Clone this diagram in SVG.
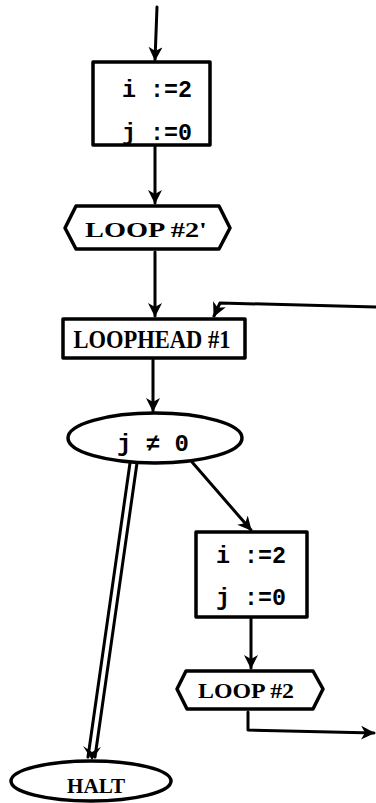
<svg xmlns="http://www.w3.org/2000/svg" width="376" height="803" viewBox="0 0 376 803">
<defs>
<style>
.n{fill:#fff;stroke:#000;stroke-width:3.5;stroke-linejoin:round}
.c{fill:none;stroke:#000;stroke-width:3;stroke-linecap:round;stroke-linejoin:round}
.m{font-family:"Liberation Mono","DejaVu Sans Mono",monospace;font-size:24px;font-weight:bold;fill:#000;text-anchor:middle}
.s{font-family:"Liberation Serif","DejaVu Serif",serif;font-weight:bold;fill:#000;text-anchor:middle}
</style>
<marker id="ah" viewBox="0 0 14 14" refX="13" refY="7" markerWidth="14" markerHeight="14" markerUnits="userSpaceOnUse" orient="auto">
<path d="M0,0 L14,7 L0,14 L4,7 Z" fill="#000"/>
</marker>
</defs>
<g id="connectors">
<path class="c" d="M157,7 L155,60" marker-end="url(#ah)"/>
<path class="c" d="M155,147 L155,203" marker-end="url(#ah)"/>
<path class="c" d="M155,252 L155,316" marker-end="url(#ah)"/>
<path class="c" d="M376,307 L220,303 L214,316" marker-end="url(#ah)"/>
<path class="c" d="M153,360 L153,411" marker-end="url(#ah)"/>
<path class="c" d="M192,462 L251,530" marker-end="url(#ah)"/>
<path class="c" d="M251,619 L251,668" marker-end="url(#ah)"/>
<path class="c" d="M248,712 L248,730 L374,733" marker-end="url(#ah)"/>
<path class="c" d="M130,463 L88,757" stroke-width="2.5"/>
<path class="c" d="M137,463 L95,757" stroke-width="2.5"/>
<path d="M83,746 L92,760 L101,747 L92,752 Z" fill="#000"/>
</g>
<g id="n1">
<rect class="n" x="93" y="62" width="117" height="83"/>
<text class="m" x="157" y="97" textLength="70" lengthAdjust="spacingAndGlyphs">i :=2</text>
<text class="m" x="157" y="140" textLength="70" lengthAdjust="spacingAndGlyphs">j :=0</text>
</g>
<g id="loop2p">
<polygon class="n" points="65,228 76,206 219,206 230,228 219,249 76,249"/>
<text class="s" x="146" y="237" font-size="21" textLength="122" lengthAdjust="spacingAndGlyphs">LOOP #2'</text>
</g>
<g id="loophead">
<rect class="n" x="63" y="319" width="182" height="39"/>
<text class="s" x="152" y="348" font-size="25" textLength="157" lengthAdjust="spacingAndGlyphs">LOOPHEAD #1</text>
</g>
<g id="cond">
<ellipse class="n" cx="155" cy="438" rx="87" ry="25"/>
<text class="m" x="153" y="451">j ≠ 0</text>
</g>
<g id="n2">
<rect class="n" x="196" y="532" width="111" height="85"/>
<text class="m" x="251" y="563" textLength="70" lengthAdjust="spacingAndGlyphs">i :=2</text>
<text class="m" x="251" y="605" textLength="70" lengthAdjust="spacingAndGlyphs">j :=0</text>
</g>
<g id="loop2">
<polygon class="n" points="177,689 186,671 313,671 323,689 313,709 187,709"/>
<text class="s" x="246" y="698" font-size="21" textLength="96" lengthAdjust="spacingAndGlyphs">LOOP #2</text>
</g>
<g id="halt">
<ellipse class="n" cx="91" cy="781" rx="80" ry="20"/>
<text class="s" x="96" y="793" font-size="20" textLength="58" lengthAdjust="spacingAndGlyphs">HALT</text>
</g>
</svg>
